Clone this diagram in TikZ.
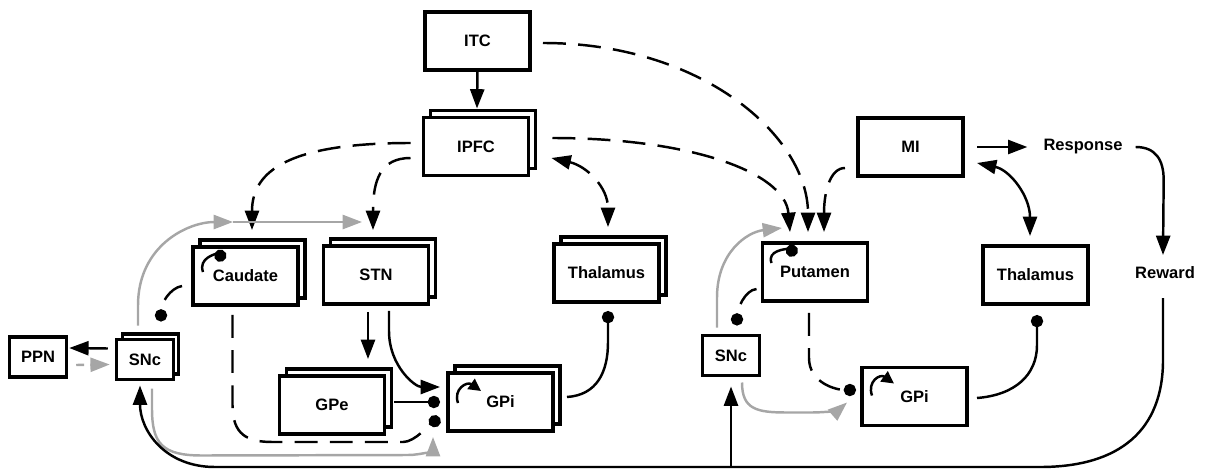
\documentclass[tikz,border=0pt]{standalone}
\usepackage{fontspec}
\setmainfont{Liberation Sans}
\usepackage{tikz}
\usetikzlibrary{arrows.meta, calc, shadows, positioning}
\tikzset{
  box/.style={rectangle, draw=black, fill=white, line width=1.8pt, outer sep=0pt, minimum width=2.1cm, minimum height=1.16cm, text centered, font=\fontsize{9.4}{11}\selectfont\bfseries},
  stack/.style={box, copy shadow={shadow xshift=#1, shadow yshift=#1, draw=black, fill=white, line width=1.8pt}},
  stack/.default=0.14cm,
  small/.style={minimum width=1.13cm, minimum height=0.8cm},
  txt/.style={font=\fontsize{9.4}{11}\selectfont\bfseries},
  arrow/.style={line width=1.4pt, -{Triangle[length=11pt,width=8pt]}},
  twoway/.style={line width=1.4pt, {Triangle[length=11pt,width=8pt]}-{Triangle[length=11pt,width=8pt]}},
  loopy/.style={line width=1.4pt, -{Triangle[length=7pt,width=7pt]}},
  inhib/.style={line width=1.4pt, -{Circle[length=7pt]}},
  dashline/.style={dash pattern=on 13pt off 7pt},
  dopa/.style={line width=1.4pt, draw=black!35, -{Triangle[length=11pt,width=8pt]}}
}

\begin{document}
\begin{tikzpicture}[x=0.02cm, y=-0.02cm]
\useasboundingbox (0,0) rectangle (1206,470);

% Cortex
\node (itc) [box] at (477.5,41) {ITC};
\node (ipfc) [stack] at (476,146.5) {IPFC};
\node (mi) [box] at (910.5,147) {MI};

% Left loop
\node (caud) [stack] at (245.5,276) {Caudate};
\node (stn) [stack] at (376,275) {STN};
\node (thall) [stack] at (606.5,273) {Thalamus};
\node (gpe) [stack] at (332,405) {GPe};
\node (gpil) [stack] at (500.5,402) {GPi};
\node (sncl) [stack=0.11cm, small] at (145,359.5) {SNc};
\node (ppn) [box, small] at (38,357) {PPN};

% Right loop
\node (put) [box] at (815,272) {Putamen};
\node (thalr) [box] at (1035.5,275) {Thalamus};
\node (sncr) [box, small] at (731,355.5) {SNc};
\node (gpir) [box] at (914.5,396.5) {GPi};
\node (resp) [txt] at (1083,147) {Response};
\node (rew) [txt] at (1165,273) {Reward};

% Cortical projections
\draw [arrow, dashline] (itc.south) -- ($(ipfc.north)+(1,-9)$);
\draw [arrow, dashline] ($(itc.east)+(13,2)$) .. controls +(160,0) and +(0,-95) .. ($(put.north)+(-7,-11)$);
\draw [arrow, dashline] ($(ipfc.east)+(24,-8.5)$) .. controls +(137,0) and +(-5,-60) .. ($(put.north)+(-25,-11)$);
\draw [arrow, dashline] ($(mi.west)+(-13,21)$) .. controls +(-15,0) and +(0,-40) .. ($(put.north)+(9,-11)$);
\draw [arrow, dashline] ($(ipfc.west)+(-13,-3.5)$) .. controls +(-120,0) and +(0,-60) .. ($(caud.north)+(6.5,-17)$);
\draw [arrow, dashline] ($(ipfc.west)+(-13,11.5)$) .. controls +(-30,0) and +(0,-50) .. ($(stn.north)+(-3,-16)$);
\draw [twoway, dashline] ($(ipfc.east)+(23,11.5)$) .. controls +(35,8) and +(0,-40) .. ($(thall.north)+(1.5,-17)$);

% Dopamine, left
\draw [dopa] ($(sncl.north)+(-7,-14)$) -- ++(0,-20) .. controls +(0,-60) and +(-45,0) .. ($(caud.north)+(-12.5,-25)$) coordinate (g1);
\draw [dopa] (g1) -- ($(stn.north)+(-14,-24)$);
\draw [dopa] ($(sncl.south)+(7,9)$) -- ++(0,20) .. controls +(0,35) and +(-40,0) .. ++(50,47) -- ($(gpil.west)+(-40,53)$) .. controls +(15,0) and +(0,12) .. ($(gpil.west)+(-15,35)$);
\draw [dopa, dash pattern=on 4.5pt off 3.5pt] ($(ppn.east)+(10,8)$) -- ($(sncl.west)+(-7,5)$);
\draw [arrow] ($(sncl.west)+(-9,-11)$) -- ($(ppn.east)+(3,-9)$);

% Striatum, left
\draw [inhib, dashline] ($(caud.west)+(-11,10)$) .. controls +(-12,2) and +(0,-18) .. ($(sncl.north)+(16,-18)$);
\draw [inhib] ($(caud.north west)+(10,25)$) .. controls +(-5,-14) and +(-10,-4) .. ($(caud.north west)+(33,11)$);
\draw [inhib, dashline] ($(caud.south)+(-13,10)$) -- ++(0,90) .. controls +(0,30) and +(-25,0) .. ++(40,37) -- ($(gpil.west)+(-45,40)$) .. controls +(12,0) and +(-10,6) .. ($(gpil.west)+(-8,16)$);

% STN, GPe, GPi
\draw [arrow] ($(stn.south)+(-8,8)$) -- ($(gpe.north)+(36,-17)$);
\draw [arrow] ($(stn.south)+(13,7)$) -- ++(0,20) .. controls +(0,35) and +(-25,0) .. ($(gpil.west)+(-8,-15)$);
\draw [inhib] ($(gpe.east)+(10,-3)$) -- ($(gpil.west)+(-8,0)$);
\draw [loopy] ($(gpil.north west)+(10,30)$) .. controls +(-5,-14) and +(-14,-10) .. ($(gpil.north west)+(33,18)$);
\draw [inhib] ($(gpil.east)+(14,-5)$) .. controls +(30,-2) and +(0,30) .. ($(thall.south)+(1.5,40)$) -- ($(thall.south)+(1.5,9)$);

% Right loop
\draw [inhib] ($(put.north west)+(9,20)$) .. controls +(-5,-13) and +(-10,-4) .. ($(put.north west)+(35,10)$);
\draw [inhib, dashline] ($(put.west)+(-6,17)$) .. controls +(-12,1) and +(0,-15) .. ($(sncr.north)+(6,-10)$);
\draw [dopa] ($(sncr.north)+(-14,-8)$) -- ++(0,-30) .. controls +(0,-45) and +(-35,4) .. ($(put.north)+(-33,-15)$);
\draw [dopa] ($(sncr.south)+(11,7)$) .. controls +(0,27) and +(-30,0) .. ++(45,30) -- ++(25,0) .. controls +(15,0) and +(-8,7) .. ($(gpir.west)+(-15,6)$);
\draw [inhib, dashline] ($(put.south)+(-6,12)$) -- ++(0,45) .. controls +(0,25) and +(-20,0) .. ($(gpir.west)+(-6,-6.5)$);
\draw [loopy] ($(gpir.north west)+(10,28)$) .. controls +(-5,-14) and +(-14,-10) .. ($(gpir.north west)+(32,16)$);
\draw [inhib] ($(gpir.east)+(10,1.5)$) .. controls +(38,-3) and +(0,30) .. ($(thalr.south)+(1.5,41)$) -- ($(thalr.south)+(1.5,11)$);
\draw [twoway] ($(mi.east)+(14,16)$) .. controls +(33,7) and +(0,-40) .. ($(thalr.north)+(-5.5,-10)$);

% Response and reward
\draw [arrow] ($(mi.east)+(14,0)$) -- ($(resp.west)+(-10,0)$);
\draw [arrow] ($(resp.east)+(7,0)$) .. controls +(20,0) and +(0,-20) .. ++(28,33) -- ($(rew.center)+(-2,-18)$);
\draw [arrow] ($(rew.center)+(-2,25)$) -- ++(0,62) .. controls +(0,70) and +(80,0) .. ++(-123,107) coordinate (bot) -- ++(-825,0) .. controls +(-50,0) and +(0,45) .. ($(sncl.south)+(-5,6)$);
\draw [arrow] (sncr.south |- bot) -- ($(sncr.south)+(0,11)$);

\end{tikzpicture}
\end{document}
